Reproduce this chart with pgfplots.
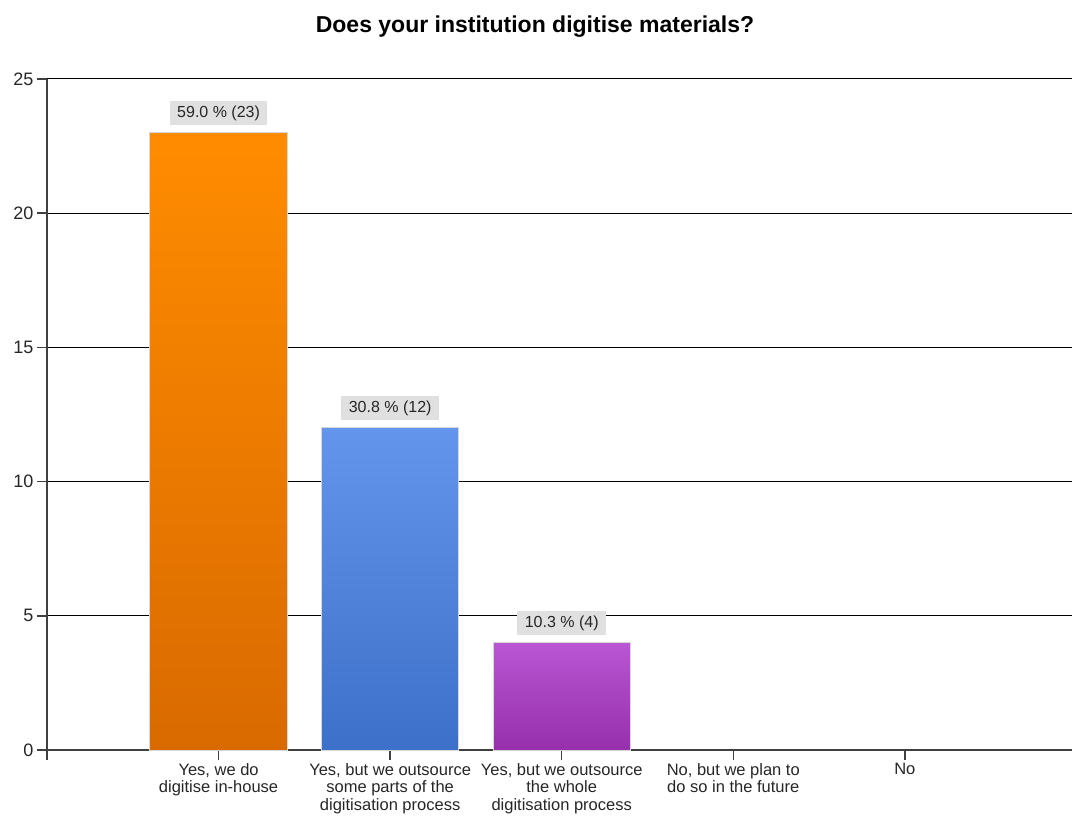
\documentclass[border=0pt]{standalone}
\usepackage{pgfplots}
\pgfplotsset{compat=1.18}
\usepackage{fontspec}
\setmainfont{Liberation Sans}

\definecolor{orTop}{RGB}{255,140,0}
\definecolor{orBot}{RGB}{217,106,0}
\definecolor{blTop}{RGB}{100,149,237}
\definecolor{blBot}{RGB}{61,112,200}
\definecolor{puTop}{RGB}{186,85,211}
\definecolor{puBot}{RGB}{150,48,172}
\definecolor{axgray}{RGB}{64,64,64}
\definecolor{lblgray}{RGB}{224,224,224}
\definecolor{bord}{RGB}{215,215,215}

\begin{document}
\begin{tikzpicture}
\path[use as bounding box] (-47pt,-65pt) rectangle (1025pt,750pt);
\begin{axis}[
  at={(0pt,0pt)}, anchor=south west,
  scale only axis, width=1025pt, height=671pt,
  xmin=-1, xmax=4.974, ymin=0, ymax=25,
  ytick={0,5,...,25},
  xtick={-1,0,1,2,3,4},
  xticklabels={{},{Yes, we do\\digitise in-house},{Yes, but we outsource\\some parts of the\\digitisation process},{Yes, but we outsource\\the whole\\digitisation process},{No, but we plan to\\do so in the future},{No}},
  axis x line*=bottom, axis y line*=left,
  axis line style={axgray, line width=1.5pt, -},
  ymajorgrids, grid style={black, line width=1pt},
  tick align=outside, major tick length=10pt,
  tick style={axgray, line width=1.5pt},
  /pgf/number format/assume math mode=true,
  yticklabel style={font=\fontsize{18}{21}\selectfont, text=black!85},
  xticklabel style={font=\fontsize{16.5}{17.5}\selectfont, align=center, text=black!85},
  clip=false,
  ybar, bar width=0.8, bar shift=0pt,
  nodes near coords, point meta=explicit symbolic,
  nodes near coords style={font=\fontsize{16}{18}\selectfont, text=black!85, fill=lblgray, anchor=south, yshift=7pt, inner xsep=7.5pt, inner ysep=4.25pt, text height=12pt, text depth=3.5pt},
]
\addplot[ybar, top color=orTop, bottom color=orBot, draw=bord, line width=1pt] coordinates {(0,23) [59.0 \% (23)]};
\addplot[ybar, top color=blTop, bottom color=blBot, draw=bord, line width=1pt] coordinates {(1,12) [30.8 \% (12)]};
\addplot[ybar, top color=puTop, bottom color=puBot, draw=bord, line width=1pt] coordinates {(2,4) [10.3 \% (4)]};
\end{axis}
\node[font=\fontsize{23}{27}\selectfont\bfseries, anchor=base] at (488pt,717pt) {Does your institution digitise materials?};
\end{tikzpicture}
\end{document}
